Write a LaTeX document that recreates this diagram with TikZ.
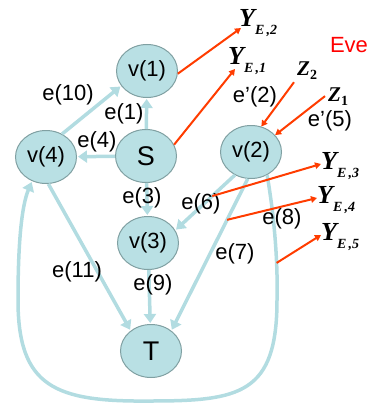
\documentclass[tikz,border=0pt]{standalone}
\usepackage{fontspec}
\setmainfont{Liberation Sans}
\newfontfamily\serifbf{Liberation Serif}
\usepackage{tikz}
\usetikzlibrary{arrows.meta,shapes.geometric}
\definecolor{nodefill}{RGB}{185,224,228}
\definecolor{nodeline}{RGB}{128,160,162}
\definecolor{edgeblue}{RGB}{178,220,225}
\definecolor{evered}{RGB}{255,60,0}
\def\Ye#1{{\serifbf\bfseries\itshape\fontsize{26}{26}\selectfont Y\raisebox{-8pt}{\fontsize{14}{14}\selectfont E\,,#1}}}
\def\Zl#1{{\serifbf\bfseries\itshape\fontsize{21}{21}\selectfont Z\raisebox{-4pt}{\fontsize{14}{14}\selectfont\upshape #1}}}

\begin{document}
\begin{tikzpicture}[x=1pt,y=-1pt,
    vert/.style={ellipse,draw=nodeline,fill=nodefill,line width=1pt,minimum width=61pt,minimum height=53pt,inner sep=0pt,font=\fontsize{22}{22}\selectfont},
    big/.style={vert,font=\fontsize{27}{27}\selectfont},
    link/.style={draw=edgeblue,line width=3.5pt,-{Triangle[length=9pt,width=12pt]},shorten >=1pt},
    tap/.style={draw=evered,line width=2pt,-{Triangle[length=6pt,width=6.5pt]}},
    elab/.style={font=\fontsize{22}{22}\selectfont,inner sep=0pt},
    ylab/.style={anchor=base west,inner sep=0pt},
    zlab/.style={anchor=base west,inner sep=3pt}]
\useasboundingbox (0,0) rectangle (368,404);

% the network
\node[vert] (v1) at (147,71) {v(1)};
\node[big] (s) at (146,156) {S};
\node[vert] (v4) at (46,157) {v(4)};
\node[vert] (v2) at (251,152) {v(2)};
\node[vert] (v3) at (148,243) {v(3)};
\node[big] (t) at (151,351) {T};

% links
\draw[link] (s) -- (v1);
\draw[link] (s) -- (v4);
\draw[link] (v4.55) -- (v1.-150);
\draw[link] (s) -- (v3);
\draw[link] (v2.-125) -- coordinate[pos=0.38] (t6) (v3.25);
\draw[link] (v2.-97) -- coordinate[pos=0.27] (t7) (t.45);
\draw[link] (v3) -- (t);
\draw[link] (v4.-85) -- (t.135);
%the long way round from v(2) back to v(4)
\draw[link] (v2.-55) .. controls (274,215) and (278,260) .. (277,300) coordinate[pos=0.7] (t8)
    .. controls (277,394) and (240,401) .. (150,401)
    .. controls (55,402) and (18,387) .. (18,300)
    .. controls (18,240) and (22,205) .. (v4.-120);

\node[elab] (l10) at (68,95) {e(10)};
\node[elab] (l1) at (124,114) {e(1)};
\node[elab] (l4) at (97,142) {e(4)};
\node[elab] (l3) at (142,198) {e(3)};
\node[elab] (l6) at (201,204) {e(6)};
\node[elab] (l8) at (282,219) {e(8)};
\node[elab] (l7) at (235,254) {e(7)};
\node[elab] (l11) at (77,272) {e(11)};
\node[elab] (l9) at (153,285) {e(9)};
\node[elab] (l2p) at (255,97) {e’(2)};
\node[elab] (l5p) at (330,121) {e’(5)};

% what Eve sees
\node[elab,text=red] (eve) at (349,45) {Eve};
\node[ylab] (ye2) at (239,27) {\Ye{2}};
\node[ylab] (ye1) at (228,65) {\Ye{1}};
\node[ylab] (ye3) at (321,169) {\Ye{3}};
\node[ylab] (ye4) at (317,203) {\Ye{4}};
\node[ylab] (ye5) at (321,240) {\Ye{5}};
\node[zlab] (z2) at (294,75) {\Zl{2}};
\node[zlab] (z1) at (325,101) {\Zl{1}};

\draw[tap] (v1.-5) -- ([xshift=2pt,yshift=-1pt]ye2.base west);
\draw[tap] (s.22) -- ([xshift=7pt,yshift=-4pt]ye1.base west);
\draw[tap] (z2.south west) -- (v2.68);
\draw[tap] (z1.west) -- (v2.35);
\draw[tap] (t6) -- ([yshift=5pt]ye3.base west);
\draw[tap] (t7) -- ([yshift=5pt]ye4.base west);
\draw[tap] (t8) -- ([yshift=5pt]ye5.base west);
\end{tikzpicture}
\end{document}
